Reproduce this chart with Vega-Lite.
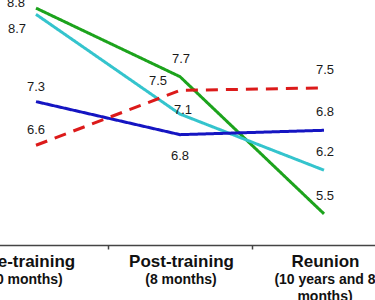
{
  "$schema": "https://vega.github.io/schema/vega-lite/v6.json",
  "width": 375,
  "height": 245,
  "autosize": {"type": "none"},
  "padding": {"left": 0, "top": 0, "right": 0, "bottom": 55},
  "background": "white",
  "config": {"view": {"stroke": null}},
  "data": {
    "values": [
      {"series": "A", "stage": "Pre-training", "value": 8.8},
      {"series": "A", "stage": "Post-training", "value": 7.7},
      {"series": "A", "stage": "Reunion", "value": 5.5},
      {"series": "B", "stage": "Pre-training", "value": 8.7},
      {"series": "B", "stage": "Post-training", "value": 7.1},
      {"series": "B", "stage": "Reunion", "value": 6.2},
      {"series": "C", "stage": "Pre-training", "value": 7.3},
      {"series": "C", "stage": "Post-training", "value": 6.77},
      {"series": "C", "stage": "Reunion", "value": 6.84},
      {"series": "D", "stage": "Pre-training", "value": 6.6},
      {"series": "D", "stage": "Post-training", "value": 7.48},
      {"series": "D", "stage": "Reunion", "value": 7.52}
    ]
  },
  "encoding": {
    "x": {"field": "stage", "type": "nominal", "sort": ["Pre-training", "Post-training", "Reunion"],
          "scale": {"type": "band", "range": [-36, 396], "paddingInner": 0, "paddingOuter": 0}, "axis": null},
    "y": {"field": "value", "type": "quantitative", "scale": {"domain": [5, 8.93], "nice": false, "zero": false}, "axis": null}
  },
  "layer": [
    {
      "mark": {"type": "line", "strokeWidth": 3},
      "encoding": {
        "x": {"field": "stage", "type": "nominal", "sort": ["Pre-training", "Post-training", "Reunion"],
              "scale": {"type": "band", "range": [-36, 396], "paddingInner": 0, "paddingOuter": 0},
              "axis": {"title": null, "orient": "bottom", "tickBand": "extent", "domainColor": "#444", "domainWidth": 1.5,
                       "tickColor": "#444", "tickWidth": 1.5, "tickSize": 4, "labelAngle": 0, "labelPadding": 4,
                       "labelOffset": {"condition": {"test": "datum.value == 'Pre-training'", "value": -9}, "value": 1},
                       "labelFont": "Liberation Sans", "labelFontSize": 17, "labelFontWeight": "bold", "labelColor": "#111",
                       "labelOverlap": false, "labelBaseline": "top"}},
        "color": {"field": "series", "type": "nominal", "legend": null,
                  "scale": {"domain": ["A", "B", "C", "D"], "range": ["#1ca31c", "#34c4cd", "#1515c2", "#dc1a1a"]}},
        "strokeDash": {"field": "series", "type": "nominal", "legend": null,
                       "scale": {"domain": ["A", "B", "C", "D"], "range": [[1, 0], [1, 0], [1, 0], [12, 8]]}}
      }
    },
    {
      "transform": [{"filter": "datum.stage == 'Reunion' || (datum.stage == 'Post-training' && datum.series == 'A')"}],
      "mark": {"type": "text", "dy": -18, "dx": 1, "font": "Liberation Sans", "fontSize": 13, "color": "#1a1a1a"},
      "encoding": {
        "x": {"field": "stage", "type": "nominal", "sort": ["Pre-training", "Post-training", "Reunion"],
              "scale": {"type": "band", "range": [-36, 396], "paddingInner": 0, "paddingOuter": 0},
              "axis": {"title": null, "orient": "bottom", "domain": false, "ticks": false, "labelAngle": 0, "labelPadding": 27,
                       "labelOffset": {"condition": {"test": "datum.value == 'Pre-training'", "value": -9}, "value": 1},
                       "labelFont": "Liberation Sans", "labelFontSize": 14, "labelFontWeight": "bold", "labelColor": "#111",
                       "labelOverlap": false, "labelBaseline": "top", "labelLineHeight": 17,
                       "labelExpr": "datum.value == 'Pre-training' ? '(0 months)' : datum.value == 'Post-training' ? '(8 months)' : ['(10 years and 8', 'months)']"}},
        "text": {"field": "value", "type": "quantitative", "format": ".1f"}
      }
    },
    {
      "transform": [{"filter": "datum.stage == 'Pre-training' && (datum.series == 'C' || datum.series == 'D')"}],
      "mark": {"type": "text", "dy": -15, "font": "Liberation Sans", "fontSize": 13, "color": "#1a1a1a"},
      "encoding": {"text": {"field": "value", "type": "quantitative", "format": ".1f"}}
    },
    {
      "transform": [{"filter": "datum.stage == 'Post-training' && datum.series == 'C'"}],
      "mark": {"type": "text", "dy": 21, "font": "Liberation Sans", "fontSize": 13, "color": "#1a1a1a"},
      "encoding": {"text": {"field": "value", "type": "quantitative", "format": ".1f"}}
    },
    {
      "transform": [{"filter": "datum.stage == 'Pre-training' && datum.series == 'A'"}],
      "mark": {"type": "text", "dx": -20, "dy": -5, "font": "Liberation Sans", "fontSize": 13, "color": "#1a1a1a"},
      "encoding": {"text": {"field": "value", "type": "quantitative", "format": ".1f"}}
    },
    {
      "transform": [{"filter": "datum.stage == 'Pre-training' && datum.series == 'B'"}],
      "mark": {"type": "text", "dx": -19, "dy": 15, "font": "Liberation Sans", "fontSize": 13, "color": "#1a1a1a"},
      "encoding": {"text": {"field": "value", "type": "quantitative", "format": ".1f"}}
    },
    {
      "transform": [{"filter": "datum.stage == 'Post-training' && datum.series == 'D'"}],
      "mark": {"type": "text", "dx": -22, "dy": -9, "font": "Liberation Sans", "fontSize": 13, "color": "#1a1a1a"},
      "encoding": {"text": {"field": "value", "type": "quantitative", "format": ".1f"}}
    },
    {
      "transform": [{"filter": "datum.stage == 'Post-training' && datum.series == 'B'"}],
      "mark": {"type": "text", "dx": 3, "dy": -4, "font": "Liberation Sans", "fontSize": 13, "color": "#1a1a1a"},
      "encoding": {"text": {"field": "value", "type": "quantitative", "format": ".1f"}}
    }
  ],
  "resolve": {"axis": {"x": "independent"}}
}
